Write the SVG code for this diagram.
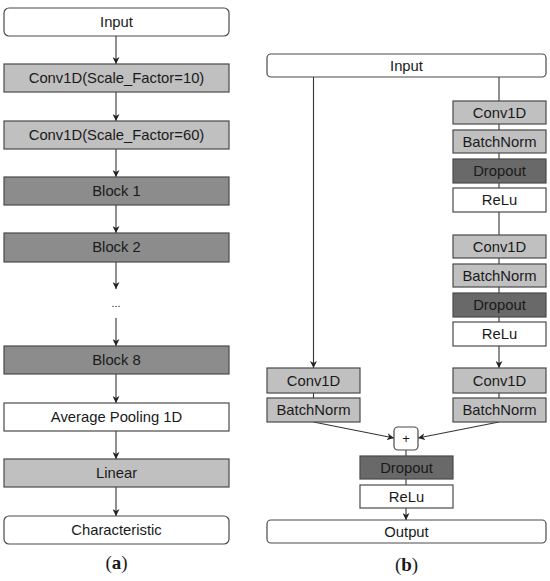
<svg xmlns="http://www.w3.org/2000/svg" width="550" height="581" viewBox="0 0 550 581">
<defs>
<marker id="ah" viewBox="0 0 10 10" refX="10" refY="5" markerWidth="7" markerHeight="7" markerUnits="userSpaceOnUse" orient="auto">
<path d="M0,0 L10,5 L0,10 L3,5 Z" fill="#222"/>
</marker>
<style>
.b{stroke:#4a4a4a;stroke-width:1.2}
.w{fill:#ffffff}
.l{fill:#c0c0c0}
.m{fill:#8c8c8c}
.d{fill:#696969}
text{font-family:"Liberation Sans",Arial,sans-serif;font-size:14.8px;fill:#1a1a1a;text-anchor:middle}
.cap{font-family:"Liberation Serif","Times New Roman",serif;font-size:19px}
.c{stroke:#333;stroke-width:1.1;fill:none}
.ca{stroke:#333;stroke-width:1.1;fill:none;marker-end:url(#ah)}
</style>
</defs>
<rect width="550" height="581" fill="#ffffff"/>
<g id="connectors">
<line class="ca" x1="116" y1="36" x2="116" y2="64"/>
<line class="ca" x1="116" y1="92" x2="116" y2="121"/>
<line class="ca" x1="116" y1="149" x2="116" y2="177"/>
<line class="ca" x1="116" y1="205" x2="116" y2="233"/>
<line class="ca" x1="116" y1="262" x2="116" y2="289"/>
<line class="ca" x1="116" y1="318" x2="116" y2="346"/>
<line class="ca" x1="116" y1="374" x2="116" y2="403"/>
<line class="ca" x1="116" y1="431" x2="116" y2="459"/>
<line class="ca" x1="116" y1="487" x2="116" y2="516"/>
<line class="ca" x1="313.5" y1="77" x2="313.5" y2="368"/>
<line class="c" x1="499" y1="77" x2="499" y2="101"/>
<line class="c" x1="499" y1="124" x2="499" y2="130"/>
<line class="c" x1="499" y1="153" x2="499" y2="159"/>
<line class="c" x1="499" y1="183" x2="499" y2="188"/>
<line class="c" x1="499" y1="212" x2="499" y2="235"/>
<line class="c" x1="499" y1="258" x2="499" y2="264"/>
<line class="c" x1="499" y1="287" x2="499" y2="293"/>
<line class="c" x1="499" y1="317" x2="499" y2="322"/>
<line class="ca" x1="499" y1="346" x2="499" y2="368"/>
<line class="c" x1="499" y1="393" x2="499" y2="398"/>
<line class="c" x1="313.5" y1="393" x2="313.5" y2="398"/>
<line class="ca" x1="313.5" y1="422" x2="394" y2="438"/>
<line class="ca" x1="499" y1="422" x2="418" y2="438"/>
<line class="c" x1="406" y1="450" x2="406" y2="456"/>
<line class="c" x1="406" y1="479" x2="406" y2="485"/>
<line class="ca" x1="406" y1="508" x2="406" y2="520"/>
</g>
<g id="a_input"><rect class="b w" x="4" y="8" width="225" height="28" rx="5"/><text x="116.5" y="27">Input</text></g>
<g id="a_conv10"><rect class="b l" x="4" y="64" width="225" height="28"/><text x="116.5" y="83">Conv1D(Scale_Factor=10)</text></g>
<g id="a_conv60"><rect class="b l" x="4" y="121" width="225" height="28"/><text x="116.5" y="140">Conv1D(Scale_Factor=60)</text></g>
<g id="a_block1"><rect class="b m" x="4" y="177" width="225" height="28"/><text x="116.5" y="196">Block 1</text></g>
<g id="a_block2"><rect class="b m" x="4" y="233" width="225" height="29"/><text x="116.5" y="252">Block 2</text></g>
<g id="a_dots"><text x="116" y="307" style="font-size:11px">...</text></g>
<g id="a_block8"><rect class="b m" x="4" y="346" width="225" height="28"/><text x="116.5" y="365">Block 8</text></g>
<g id="a_avgpool"><rect class="b w" x="4" y="403" width="225" height="28"/><text x="116.5" y="422">Average Pooling 1D</text></g>
<g id="a_linear"><rect class="b l" x="4" y="459" width="225" height="28"/><text x="116.5" y="478">Linear</text></g>
<g id="a_char"><rect class="b w" x="4" y="516" width="225" height="28" rx="5"/><text x="116.5" y="535">Characteristic</text></g>
<g id="cap_a"><text class="cap" x="116.5" y="569">(<tspan font-weight="bold">a</tspan>)</text></g>

<g id="b_input"><rect class="b w" x="267" y="54" width="279" height="23" rx="4"/><text x="406.5" y="71">Input</text></g>
<g id="b_conv1"><rect class="b l" x="453" y="101" width="93" height="23"/><text x="499.5" y="118">Conv1D</text></g>
<g id="b_bn1"><rect class="b l" x="453" y="130" width="93" height="23"/><text x="499.5" y="147">BatchNorm</text></g>
<g id="b_drop1"><rect class="b d" x="453" y="159" width="93" height="24"/><text x="499.5" y="176">Dropout</text></g>
<g id="b_relu1"><rect class="b w" x="453" y="188" width="93" height="24"/><text x="499.5" y="205">ReLu</text></g>
<g id="b_conv2"><rect class="b l" x="453" y="235" width="93" height="23"/><text x="499.5" y="252">Conv1D</text></g>
<g id="b_bn2"><rect class="b l" x="453" y="264" width="93" height="23"/><text x="499.5" y="281">BatchNorm</text></g>
<g id="b_drop2"><rect class="b d" x="453" y="293" width="93" height="24"/><text x="499.5" y="310">Dropout</text></g>
<g id="b_relu2"><rect class="b w" x="453" y="322" width="93" height="24"/><text x="499.5" y="339">ReLu</text></g>
<g id="b_conv3"><rect class="b l" x="453" y="368" width="93" height="25"/><text x="499.5" y="386">Conv1D</text></g>
<g id="b_bn3"><rect class="b l" x="453" y="398" width="93" height="24"/><text x="499.5" y="415">BatchNorm</text></g>
<g id="b_convL"><rect class="b l" x="267" y="368" width="93" height="25"/><text x="313.5" y="386">Conv1D</text></g>
<g id="b_bnL"><rect class="b l" x="267" y="398" width="93" height="24"/><text x="313.5" y="415">BatchNorm</text></g>
<g id="b_plus"><rect class="b w" x="394" y="427" width="24" height="23" rx="4"/><text x="406" y="443" style="font-size:13px">+</text></g>
<g id="b_drop3"><rect class="b d" x="360" y="456" width="93" height="23"/><text x="406.5" y="473">Dropout</text></g>
<g id="b_relu3"><rect class="b w" x="360" y="485" width="93" height="23"/><text x="406.5" y="502">ReLu</text></g>
<g id="b_output"><rect class="b w" x="267" y="520" width="279" height="23" rx="4"/><text x="406.5" y="537">Output</text></g>
<g id="cap_b"><text class="cap" x="406.5" y="571">(<tspan font-weight="bold">b</tspan>)</text></g>
</svg>
